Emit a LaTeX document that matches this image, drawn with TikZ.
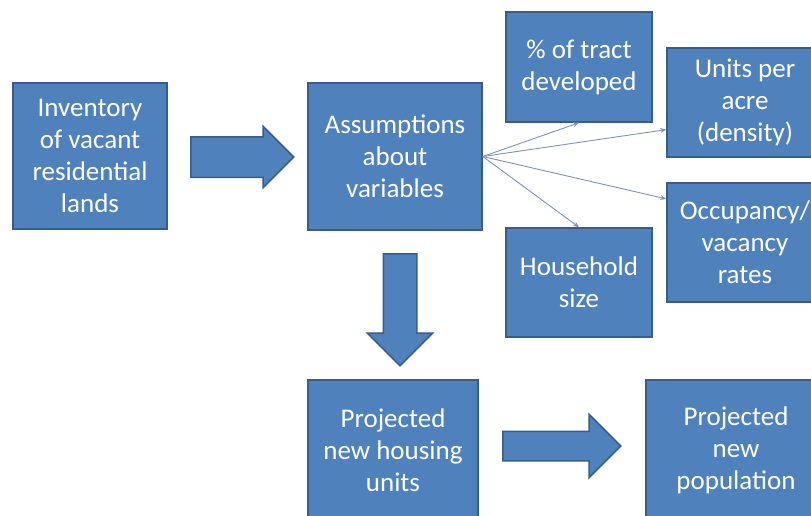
\documentclass[tikz,border=0pt]{standalone}
\usepackage{fontspec}
\setmainfont{Carlito}
\usetikzlibrary{shapes.arrows,arrows.meta}
\definecolor{boxblue}{HTML}{4F81BD}
\definecolor{boxedge}{HTML}{385D8A}
\definecolor{thinline}{HTML}{8093B3}

\begin{document}
\begin{tikzpicture}[x=1pt, y=-1pt, font=\fontsize{27}{32}\selectfont]
\tikzset{
  box/.style={rectangle, draw=boxedge, line width=1.5pt, fill=boxblue, text=white, align=center, inner sep=0pt},
  bigarr/.style={single arrow, draw=boxedge, line width=1.5pt, fill=boxblue, anchor=tail, single arrow head extend=#1},
  arr/.style={->, >={Stealth[length=6pt, width=5pt]}, line width=0.9pt, draw=thinline},
}
\clip (0,0) rectangle (811,515);
\node[box, minimum width=154pt, minimum height=146pt] (inv) at (90,156) {Inventory\\of vacant\\residential\\lands};
\node[box, minimum width=174pt, minimum height=147pt] (ass) at (395,156.5) {Assumptions\\about\\variables};
\node[box, minimum width=146pt, minimum height=110pt] (tract) at (579,67) {\% of tract\\developed};
\node[box, minimum width=156pt, minimum height=109pt] (units) at (745,102.5) {Units per\\acre\\(density)};
\node[box, minimum width=156pt, minimum height=119pt] (occ) at (745,242.5) {Occupancy/\\vacancy\\rates};
\node[box, minimum width=146pt, minimum height=109pt] (hh) at (579,282.5) {Household\\size};
\node[box, minimum width=170pt, minimum height=140pt] (proj) at (393,450) {Projected\\new housing\\units};
\node[box, minimum width=180pt, minimum height=140pt] (pop) at (736,450) {Projected\\new\\population};
% block arrows
\node[bigarr=10.5pt, inner sep=19.5pt, minimum height=103pt] (a1) at (190,157) {};
\node[bigarr=16pt, inner sep=16pt, minimum height=112pt, shape border rotate=270] (a2) at (400,253) {};
\node[bigarr=17pt, inner sep=14pt, minimum height=118pt] (a3) at (502,446) {};
% thin arrows
\draw[arr] (ass.east) -- (tract.south);
\draw[arr] (ass.east) -- (units.199);
\draw[arr] (ass.east) -- (occ.151);
\draw[arr] (ass.east) -- (hh.north);
\end{tikzpicture}
\end{document}
